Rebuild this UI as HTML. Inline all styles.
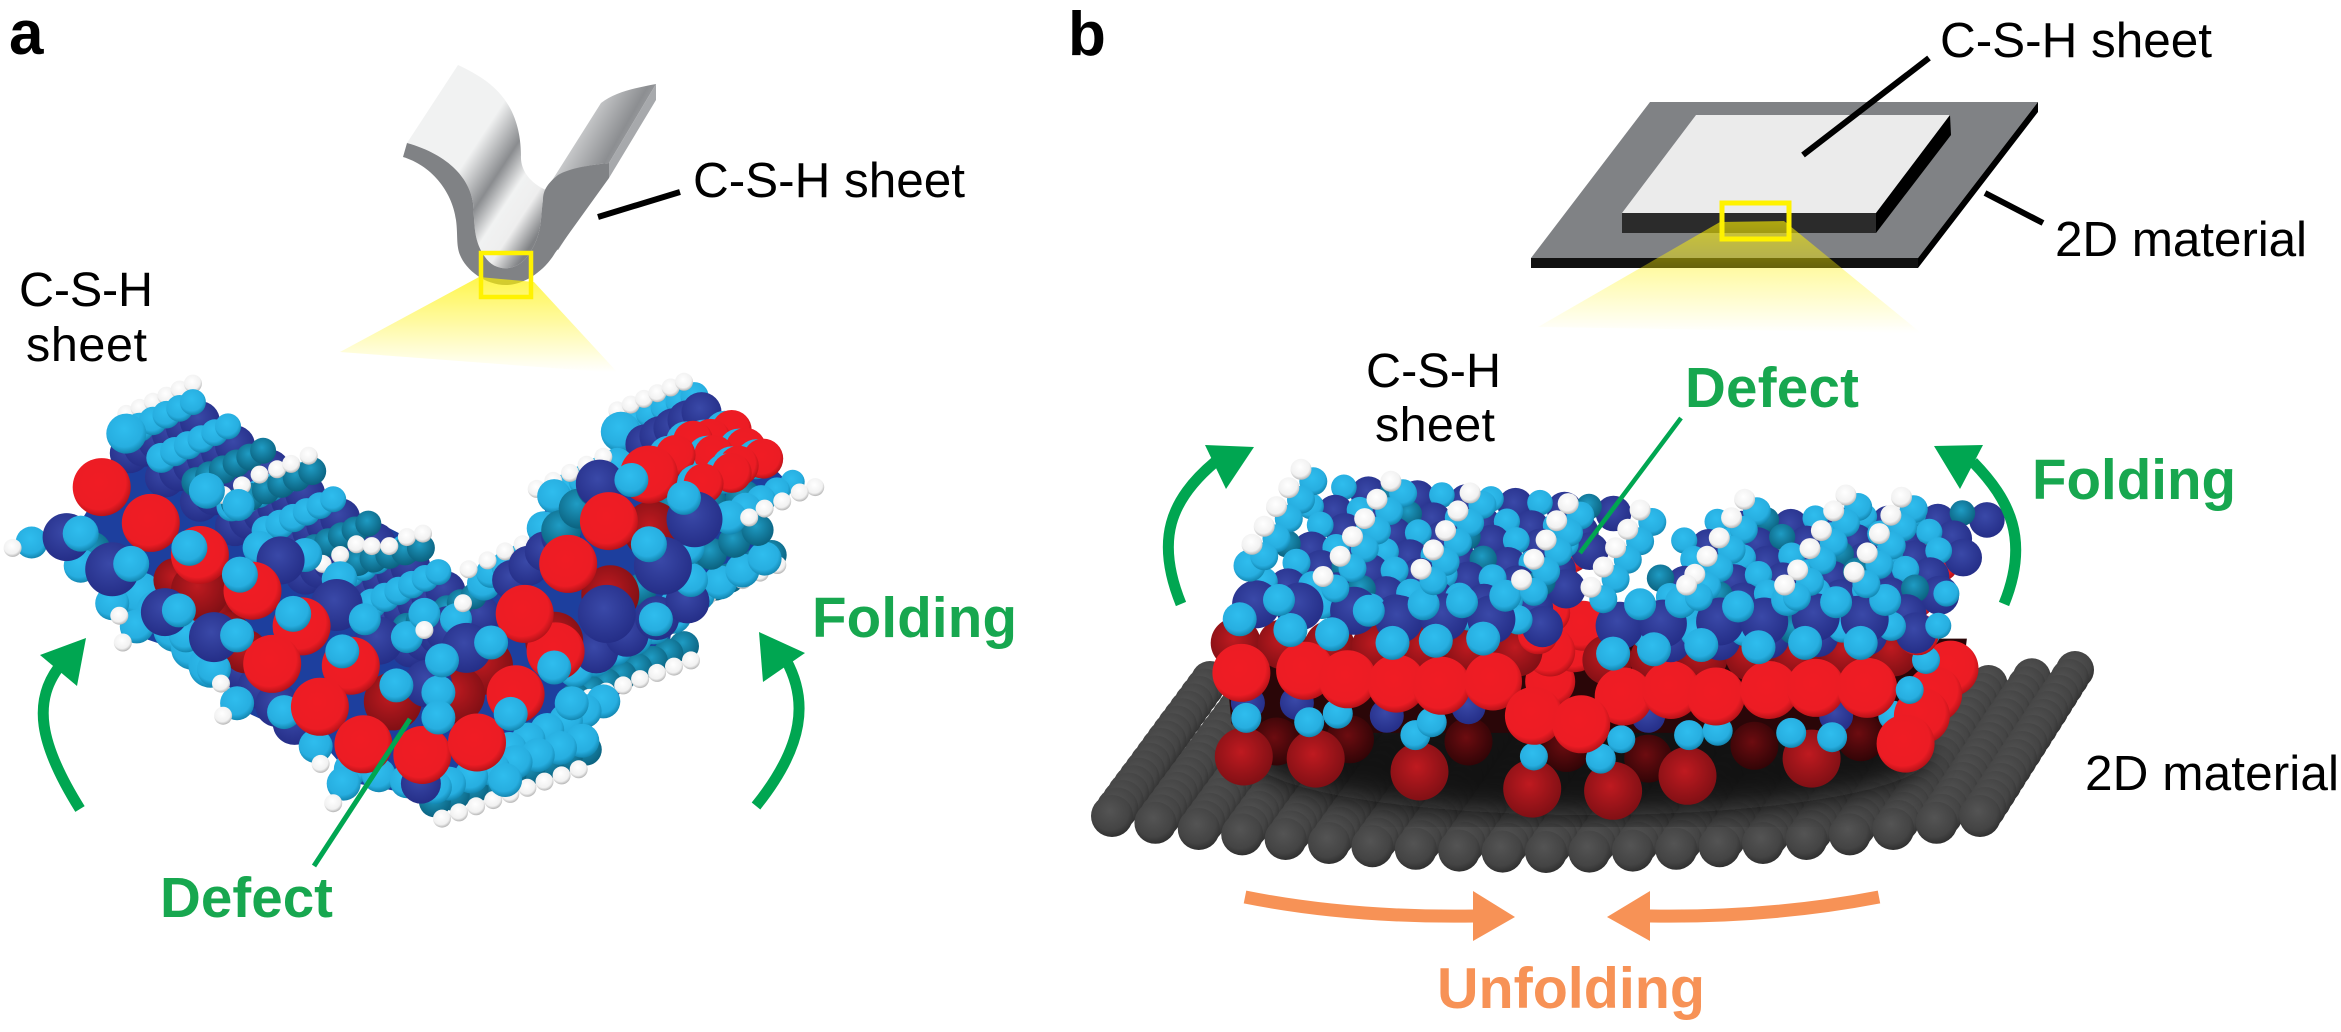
<!DOCTYPE html>
<html><head><meta charset="utf-8"><title>C-S-H sheet folding</title>
<style>html,body{margin:0;padding:0;background:#fff;width:2341px;height:1032px;overflow:hidden}svg{display:block}text{font-family:"Liberation Sans",sans-serif}</style>
</head><body>
<svg xmlns="http://www.w3.org/2000/svg" width="2341" height="1032" viewBox="0 0 2341 1032">
<defs>
<radialGradient id="r" cx=".45" cy=".42" r=".62"><stop offset="0" stop-color="#f01c24"/><stop offset=".75" stop-color="#ec1c24"/><stop offset="1" stop-color="#a81015"/></radialGradient>
<radialGradient id="dr" cx=".45" cy=".42" r=".62"><stop offset="0" stop-color="#bf1a20"/><stop offset="1" stop-color="#7d0f14"/></radialGradient>
<radialGradient id="dk" cx=".45" cy=".42" r=".62"><stop offset="0" stop-color="#6d0c10"/><stop offset="1" stop-color="#2e0406"/></radialGradient>
<radialGradient id="c" cx=".45" cy=".38" r=".65"><stop offset="0" stop-color="#2fbdee"/><stop offset=".7" stop-color="#27aee0"/><stop offset="1" stop-color="#0f7fa8"/></radialGradient>
<radialGradient id="dc" cx=".45" cy=".38" r=".65"><stop offset="0" stop-color="#1f9cc4"/><stop offset="1" stop-color="#0a5f7c"/></radialGradient>
<radialGradient id="b" cx=".45" cy=".4" r=".65"><stop offset="0" stop-color="#3a49a8"/><stop offset="1" stop-color="#232c85"/></radialGradient>
<radialGradient id="w" cx=".45" cy=".38" r=".65"><stop offset="0" stop-color="#fff"/><stop offset=".7" stop-color="#f1f1f1"/><stop offset="1" stop-color="#aaa"/></radialGradient>
<radialGradient id="g" cx=".45" cy=".38" r=".65"><stop offset="0" stop-color="#545454"/><stop offset=".7" stop-color="#444"/><stop offset="1" stop-color="#2c2c2c"/></radialGradient>
<linearGradient id="s1" gradientUnits="userSpaceOnUse" x1="440" y1="100" x2="570" y2="185"><stop offset="0" stop-color="#f1f2f2"/><stop offset=".35" stop-color="#f1f2f2"/><stop offset=".57" stop-color="#8a8c8f"/><stop offset=".72" stop-color="#f1f2f2"/><stop offset=".85" stop-color="#eee"/><stop offset="1" stop-color="#808285"/></linearGradient>
<linearGradient id="s2" gradientUnits="userSpaceOnUse" x1="570" y1="125" x2="640" y2="165"><stop offset="0" stop-color="#dcddde"/><stop offset=".6" stop-color="#8c8e91"/><stop offset="1" stop-color="#b8babd"/></linearGradient>
<linearGradient id="ya" gradientUnits="userSpaceOnUse" x1="0" y1="277" x2="0" y2="372"><stop offset="0" stop-color="#fff200" stop-opacity=".7"/><stop offset="1" stop-color="#fff200" stop-opacity="0"/></linearGradient>
<linearGradient id="yb" gradientUnits="userSpaceOnUse" x1="0" y1="222" x2="0" y2="333"><stop offset="0" stop-color="#fff200" stop-opacity=".62"/><stop offset="1" stop-color="#fff200" stop-opacity="0"/></linearGradient>
<filter id="bl"><feGaussianBlur stdDeviation="14"/></filter>
</defs>
<rect width="2341" height="1032" fill="#fff"/>

<!-- panel a sheet -->
<path d="M458 65C490 80 520 100 521 155C520 170 530 183 546 190L543 200C540 220 543 235 527 257C515 272 495 272 485 257C473 240 475 225 473 203C470 180 450 155 407 143Z" fill="url(#s1)"/>
<path d="M546 190L601 103C615 92 635 88 656 84L609 163C590 165 570 168 555 178Z" fill="url(#s2)"/>
<path d="M609 163L656 84L656 100L609 178Z" fill="#a7a9ac"/>
<path d="M563 178L605 178L558 250L543 235L543 200Z" fill="#939598"/>
<path d="M407 143L403 157C430 165 452 190 456 220C458 235 456 245 460 255C466 270 485 285 506 285C525 285 545 270 555 253L609 178L609 163C590 165 570 168 558 175C548 183 543 190 543 200C540 220 543 235 527 257C515 272 495 272 485 257C473 240 475 225 473 203C470 180 450 155 407 143Z" fill="#808285"/>
<polygon points="479,277 534,282 618,373 340,352" fill="url(#ya)"/>
<rect x="481" y="253" width="50" height="44" fill="none" stroke="#fff200" stroke-width="4.5"/>
<line x1="598" y1="217" x2="680" y2="192" stroke="#000" stroke-width="6"/>

<!-- panel b sheet -->
<polygon points="1650,102 2038,102 1918,258 1531,258" fill="#808285"/>
<polygon points="1531,258 1918,258 1918,268 1531,268" fill="#111"/>
<polygon points="1918,258 2038,102 2038,112 1918,268" fill="#000"/>
<polygon points="1696,115 1950,115 1876,213 1622,213" fill="#ebebeb"/>
<polygon points="1622,213 1876,213 1876,233 1622,233" fill="#2b2b2b"/>
<polygon points="1876,213 1950,115 1951,135 1876,233" fill="#000"/>
<polygon points="1720,222 1784,221 1921,333 1538,327" fill="url(#yb)"/>
<rect x="1722" y="203" width="67" height="36" fill="none" stroke="#fff200" stroke-width="5"/>
<line x1="1929" y1="58" x2="1803" y2="155" stroke="#000" stroke-width="6"/>
<line x1="1985" y1="193" x2="2043" y2="223" stroke="#000" stroke-width="6"/>

<g id="m"></g>

<!-- green leaders -->
<line x1="410" y1="719" x2="314" y2="866" stroke="#00a651" stroke-width="5"/>
<line x1="1681" y1="418" x2="1580" y2="553" stroke="#00a651" stroke-width="4.5"/>

<!-- arrows -->
<g fill="none" stroke="#00a651" stroke-width="11">
<path d="M80 809C40 745 30 700 63 662"/>
<path d="M756 806C805 745 808 700 786 660"/>
<path d="M1181 604C1155 540 1170 500 1215 462"/>
<path d="M2004 604C2030 540 2010 500 1973 462"/>
</g>
<g fill="#00a651">
<polygon points="86,638 40,655 77,686"/>
<polygon points="759,632 805,653 763,682"/>
<polygon points="1205,445 1254,447 1226,489"/>
<polygon points="1934,446 1983,445 1960,489"/>
</g>
<g fill="none" stroke="#f79256" stroke-width="13">
<path d="M1245 897Q1350 918 1476 916"/>
<path d="M1879 897Q1770 918 1648 916"/>
</g>
<g fill="#f79256">
<polygon points="1473,891 1515,917 1473,941"/>
<polygon points="1650,891 1607,917 1650,941"/>
</g>

<!-- labels -->
<text x="9" y="54" font-size="62" font-weight="bold" fill="#000">a</text>
<text x="1068" y="55" font-size="62" font-weight="bold" fill="#000">b</text>
<text x="693" y="197" font-size="49.5" fill="#000" textLength="272">C-S-H sheet</text>
<text x="19" y="306" font-size="48.5" fill="#000" textLength="134">C-S-H</text>
<text x="26" y="361" font-size="48.5" fill="#000" textLength="121">sheet</text>
<text x="1940" y="57" font-size="49.5" fill="#000" textLength="272">C-S-H sheet</text>
<text x="2055" y="256" font-size="49.5" fill="#000" textLength="252">2D material</text>
<text x="1366" y="387" font-size="48.5" fill="#000" textLength="135">C-S-H</text>
<text x="1375" y="441" font-size="48.5" fill="#000" textLength="120">sheet</text>
<text x="2085" y="790" font-size="49.5" fill="#000" textLength="254">2D material</text>
<text x="812" y="637" font-size="56.5" font-weight="bold" fill="#17a74f" textLength="205">Folding</text>
<text x="160" y="917" font-size="56.5" font-weight="bold" fill="#17a74f" textLength="173">Defect</text>
<text x="1685" y="407" font-size="56.5" font-weight="bold" fill="#17a74f" textLength="174">Defect</text>
<text x="2032" y="499" font-size="56.5" font-weight="bold" fill="#17a74f" textLength="204">Folding</text>
<text x="1437" y="1008" font-size="57.5" font-weight="bold" fill="#f79256" textLength="268">Unfolding</text>
</svg>
<script>
var A=function(x,y){return [x/1.4255,380+y/2.8]},B=function(x,y){return [1060+x/1.224,360+y/2.333]},o='';
function c(z,x,y,r,k){var p=z(x,y);o+='<circle cx="'+p[0].toFixed(1)+'" cy="'+p[1].toFixed(1)+'" r="'+r+'" fill="url(#'+k+')"/>'}
function l(z,x1,y1,x2,y2,n,r,k,r2){r2=r2||r;for(var i=0;i<n;i++){var t=n>1?i/(n-1):0;c(z,x1+(x2-x1)*t,y1+(y2-y1)*t,(r+(r2-r)*t).toFixed(1),k)}}
function m(z,a,r,k){for(var i=0;i<a.length;i+=2)c(z,a[i],a[i+1],r,k)}
function poly(z,a,f){var s='';for(var i=0;i<a.length;i+=2){var p=z(a[i],a[i+1]);s+=p[0].toFixed(1)+','+p[1].toFixed(1)+' '}o+='<polygon points="'+s+'" fill="'+f+'"/>'}

/* ---------- panel a ---------- */
poly(A,[210,140,290,70,300,130,360,210,445,320,530,390,590,450,590,520,650,620,690,620,675,570,740,490,770,390,790,320,860,230,890,130,980,50,1060,130,1090,220,1130,300,1080,380,1085,520,960,670,950,790,830,950,800,1080,640,1180,510,1130,470,1040,340,920,320,800,200,720,170,600,130,540,80,470,120,380,160,250],'#1d3f9e');
/* lower back chains */
l(A,1100,490,960,640,8,15,'dc');l(A,1108,518,960,645,7,9,'w');
l(A,975,745,820,890,8,15,'dc');l(A,985,785,840,890,7,9,'w');
l(A,835,1035,620,1180,9,16,'dc');l(A,825,1090,630,1228,9,9,'w');
l(A,860,900,700,1060,7,17,'c');l(A,830,1010,640,1130,7,17,'c');
l(A,960,660,820,810,6,18,'c');
l(A,500,1090,620,1140,4,17,'c');c(A,600,1130,20,'b');
/* left wing chains */
l(A,180,95,275,10,6,9,'w');
for(var k=0;k<9;k++){
 var bx=180+k*50,by=150+k*68,kc=(k%3==2)?'dc':'c';
 l(A,bx+5,by+55,bx+105,by-35,6,20,'b');
 l(A,bx,by,bx+95,by-88,6,15,kc,13);
}
l(A,335,345,445,255,6,14,'dc');m(A,[318,322,345,295,370,265,395,250,415,235,440,212],9,'w');
l(A,510,510,600,470,5,14,'dc');m(A,[460,515,485,490,508,460,530,465,555,465,580,440,603,430],9,'w');
c(A,180,150,20,'c');c(A,295,310,18,'c');c(A,340,350,16,'c');
m(A,[370,470,435,490,485,555],17,'c');c(A,400,505,24,'b');c(A,480,630,26,'b');
m(A,[540,730,640,700],24,'b');
m(A,[520,670,580,720,605,655,650,670],16,'c');m(A,[605,700,660,625],9,'w');
/* lower-left body */
l(A,130,480,200,620,4,20,'dc');l(A,200,600,300,800,5,22,'c');l(A,320,760,420,960,5,22,'b');l(A,250,560,350,760,5,22,'dr');
/* right wing top */
l(A,905,110,990,45,5,14,'c');l(A,880,85,975,5,6,9,'w');c(A,885,145,20,'c');
l(A,920,180,1000,90,5,20,'b');
l(A,810,305,880,235,4,16,'c');l(A,765,305,860,215,5,9,'w');c(A,790,325,17,'c');c(A,775,415,17,'c');c(A,690,570,17,'c');
l(A,700,540,765,480,4,15,'c');m(A,[668,530,695,505,720,480,745,460],9,'w');
l(A,730,560,800,440,4,20,'b');l(A,800,420,850,300,3,20,'dc');
/* right side body */
l(A,900,700,1090,500,7,17,'c');l(A,880,620,1080,420,7,16,'dc');l(A,850,760,980,620,4,22,'b');l(A,960,350,1060,330,3,18,'dc');
(function(){var R=[1040,140,1010,165,985,170,1060,190,1085,220,1015,210,960,210,1050,240,1040,260,1000,290];
 for(var i=0;i<R.length;i+=2){c(A,R[i]-7,R[i+1]+2,20,'c');c(A,R[i]+3,R[i+1],20,'r')}})();
l(A,1130,285,1040,385,5,12,'c',17);m(A,[1162,300,1140,315,1115,340,1090,360,1068,385],9,'w');
m(A,[985,560,980,470,935,670],17,'c');
/* left-edge stuff */
c(A,45,455,16,'c');c(A,18,470,9,'w');m(A,[115,520,160,625,195,690,265,715,305,810,338,905,405,930,450,1025,490,1130],17,'c');
m(A,[170,660,175,735,315,850,318,940,457,1075,475,1185],9,'w');
/* dark reds */
m(A,[870,600,790,730,690,800,285,590,560,900,650,880,930,420],29,'dr');
/* blues */
m(A,[95,440],24,'b');m(A,[160,530],27,'b');m(A,[235,650],24,'b');m(A,[305,720],25,'b');
m(A,[855,290],24,'b');m(A,[990,390],28,'b');m(A,[945,520],29,'b');
/* big reds */
m(A,[145,300,215,400,285,490,360,590,430,690,388,795,500,800,456,915,518,1020,602,1050,680,1015,735,880,792,760,748,655,810,515,868,395,925,265],29,'r');
/* front blues + cyans */
m(A,[865,655],29,'b');m(A,[610,850],24,'b');m(A,[665,750],25,'b');
m(A,[270,470,342,545,418,655,115,430,187,515,925,460],18,'c');
m(A,[488,760,255,645,338,715,565,855,625,875,630,785,700,735,728,935,790,805,975,330,900,280,815,905,720,1120,625,945],17,'c');

/* ---------- panel b ---------- */
(function(){
 var n=20,rows=19;
 for(var j=rows-1;j>=0;j--){
  for(var ci=0;ci<=n;ci++){
   var t=ci/n,fx=1112+868*t,fy=816+36*(1-Math.pow((fx-1546)/434,2));
   var q=j/(rows-1),dx=98-3*t,dy=-136-10*t;
   var x=fx+dx*q,y=fy+dy*q;
   o+='<circle cx="'+x.toFixed(1)+'" cy="'+y.toFixed(1)+'" r="'+(21-2*q).toFixed(1)+'" fill="url(#g)"/>';
  }
 }
})();
o+='<ellipse cx="1590" cy="755" rx="340" ry="60" fill="#111" opacity=".9" filter="url(#bl)"/>';
poly(B,[200,650,1110,650,1100,800,1040,870,300,870,210,850],'#2a0608');
m(B,[265,890,355,885,500,890,620,905,720,930,850,900,980,880],24,'dk');
/* lower reds */
m(B,[225,925,313,930,440,960,578,1000,677,1005,768,970,920,930],29,'dr');
/* blue + connectors */
m(B,[230,800,290,800,400,830,500,810,720,830,950,830],17,'b');
m(B,[228,835,305,845,435,875,662,930,770,875,805,865,895,870,945,880,1020,830,340,825,455,845],15,'c');
m(B,[580,925,687,885],14,'c');
/* mid back reds */
m(B,[600,750,630,670,640,620,600,680],25,'r');
m(B,[1090,720,1070,780,1055,830],28,'r');
l(B,215,660,560,680,7,25,'dr');l(B,670,700,1020,680,7,25,'dr');
/* front reds */
m(B,[222,730,300,725,352,745,412,755,467,760,530,750,690,785,748,770,803,785,868,770,925,765],29,'r');
c(B,988,765,30,'r');c(B,1035,895,29,'r');
m(B,[580,830,638,850],29,'r');
m(B,[1060,640,1060,700,1040,770],14,'c');
/* block edge reds, partly hidden by the lattices */
m(B,[625,450,612,520,600,590,585,640],20,'r');
m(B,[1090,420,1075,470,1060,510,1045,555,1035,600,1050,640],21,'r');
/* lattices */
function lat(ox,oy,ay){
 for(var j=7;j>=1;j--){var s=.85+.15*(1-j/7),sh=(j%2)?26:0;
  for(var i=0;i<6;i++){
   var x=ox+i*60+j*14.5+sh,y=oy+i*ay-j*44;
   if(x>ox+400+j*14.5)continue;
   c(B,x+30,y+16,(21*s).toFixed(1),'b');
  }
  for(var i=0;i<6;i++){
   var x=ox+i*60+j*14.5+sh,y=oy+i*ay-j*44;
   if(x>ox+340+j*14.5)continue;
   c(B,x,y,(15*s).toFixed(1),(j+i)%4==0?'dc':'c');
  }
 }
}
lat(220,605,9);lat(677,685,-4);
m(B,[1085,545,1075,620],13,'c');
m(B,[293,575,360,585,415,605,470,600,528,605,240,570],24,'b');
m(B,[685,620,738,615,808,610,862,610,925,600,985,605],24,'b');
m(B,[220,605,282,630,333,640,407,660,460,655,518,650,677,685,727,675,785,665,855,670,912,660,980,660],17,'c');
m(B,[268,560,378,585,445,570,492,565,545,550,232,480,710,570,760,565,830,575,890,560,950,565,1010,560],16,'c');
var W=[295,255,280,298,265,342,250,388,235,430,405,283,388,325,373,370,358,412,343,458,322,505,502,310,487,352,472,398,457,443,442,488,622,335,608,375,595,420,580,465,565,513,710,350,695,395,680,438,665,483,650,530,838,325,822,368,807,415,792,458,777,500,767,525,962,315,947,352,932,398,918,440,903,490,887,525,1030,320,1017,362,1003,405,988,450,972,495];
for(var i=0;i<W.length;i+=2){c(B,W[i]+15,W[i+1]+28,14,'c')}
m(B,W,10.5,'w');
document.getElementById('m').innerHTML=o;
</script>
</body></html>
